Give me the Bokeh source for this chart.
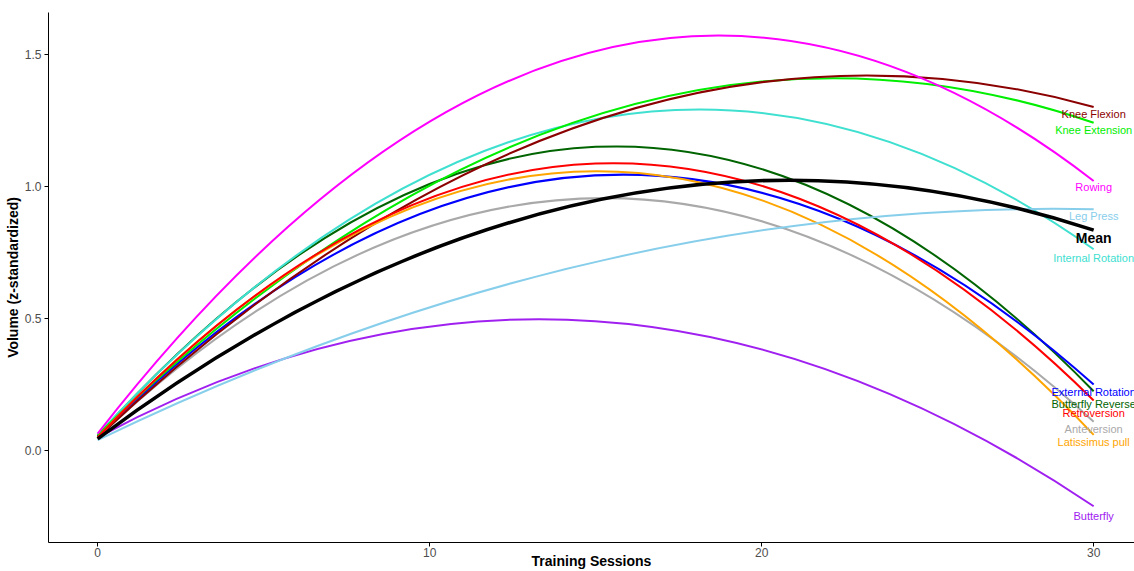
from bokeh.plotting import figure
from bokeh.models import ColumnDataSource, Range1d, FixedTicker, PrintfTickFormatter
from bokeh.embed import file_html
from bokeh.resources import INLINE
from bokeh.core.properties import value

# ---------------- data ----------------
exercises = ["Anteversion", "Butterfly", "Butterfly Reverse", "External Rotation",
             "Internal Rotation", "Knee Extension", "Knee Flexion", "Latissimus pull",
             "Leg Press", "Retroversion", "Rowing", "Mean"]
# fitted volume at session 0, session 15 and session 30
volume_s0 = [0.05, 0.05, 0.055, 0.05, 0.06, 0.06, 0.05, 0.05, 0.04, 0.05, 0.065, 0.045]
volume_s15 = [0.955, 0.490, 1.149, 1.041, 1.254, 1.268, 1.249, 1.057, 0.714, 1.086, 1.511, 0.946]
volume_s30 = [0.11, -0.21, 0.225, 0.25, 0.762, 1.24, 1.30, 0.06, 0.913, 0.19, 1.02, 0.834]
session_first, session_mid, session_last = 0, 15, 30
x_ticks = [0, 10, 20, 30]
y_ticks = [0.0, 0.5, 1.0, 1.5]

# ---------------- styles / layout ----------------
COLORS = {
    "Anteversion": "#A9A9A9", "Butterfly": "#A020F0", "Butterfly Reverse": "#006400",
    "External Rotation": "#0000FF", "Internal Rotation": "#40E0D0", "Knee Extension": "#00EE00",
    "Knee Flexion": "#8B0000", "Latissimus pull": "#FFA500", "Leg Press": "#87CEEB",
    "Retroversion": "#FF0000", "Rowing": "#FF00FF", "Mean": "#000000",
}
LABEL_NUDGE = {
    "Anteversion": -0.027, "Butterfly": -0.035, "Butterfly Reverse": -0.048,
    "External Rotation": -0.027, "Internal Rotation": -0.034, "Knee Extension": -0.029,
    "Knee Flexion": -0.025, "Latissimus pull": -0.026, "Leg Press": -0.026,
    "Retroversion": -0.047, "Rowing": -0.024, "Mean": -0.030,
}
FONT = "Liberation Sans"
W, H = 1134, 571
MB_L, MB_T, MB_B = 48, 12, 28
X0, X1 = -1.48, 31.23
Y0, Y1 = -0.347, 1.657

p = figure(width=W, height=H, output_backend="svg", toolbar_location=None,
           x_range=Range1d(X0, X1), y_range=Range1d(Y0, Y1),
           min_border_left=MB_L, min_border_right=0, min_border_top=MB_T,
           min_border_bottom=MB_B)
p.xgrid.visible = False
p.ygrid.visible = False
p.outline_line_color = None
p.background_fill_color = "white"
p.border_fill_color = "white"

p.xaxis.ticker = FixedTicker(ticks=x_ticks)
p.yaxis.ticker = FixedTicker(ticks=y_ticks)
p.yaxis.formatter = PrintfTickFormatter(format="%.1f")
for ax in (p.xaxis, p.yaxis):
    ax.axis_line_color = "black"
    ax.axis_line_width = 1
    ax.major_tick_line_color = "black"
    ax.major_tick_out = 4
    ax.major_tick_in = 0
    ax.minor_tick_line_color = None
    ax.major_label_text_color = "#4D4D4D"
    ax.major_label_text_font = FONT
    ax.major_label_text_font_size = "12px"
    ax.axis_label_text_font = FONT
    ax.axis_label_text_font_style = "bold"
    ax.axis_label_text_font_size = "14px"
    ax.axis_label_text_color = "black"
p.yaxis.major_label_standoff = 3
p.yaxis.axis_label = "Volume (z-standardized)"
p.yaxis.axis_label_standoff = 1
p.xaxis.major_label_standoff = 1
p.xaxis.axis_label = "Training Sessions"
p.xaxis.axis_label_standoff = -7

# ---------------- curves (quadratic fits) ----------------
cy = [(4 * m - a - b) / 2 for a, m, b in zip(volume_s0, volume_s15, volume_s30)]
src = ColumnDataSource(dict(
    x0=[session_first] * len(exercises), x1=[session_last] * len(exercises),
    cx=[session_mid] * len(exercises),
    y0=volume_s0, y1=volume_s30, cy=cy,
    color=[COLORS[e] for e in exercises],
    lw=[3.5 if e == "Mean" else 2 for e in exercises],
))
p.quadratic(x0="x0", y0="y0", x1="x1", y1="y1", cx="cx", cy="cy",
            line_color="color", line_width="lw", source=src)

# ---------------- end labels ----------------
reg = [i for i, e in enumerate(exercises) if e != "Mean"]
mean_i = exercises.index("Mean")
lab_src = ColumnDataSource(dict(
    x=[session_last] * len(reg),
    y=[volume_s30[i] + LABEL_NUDGE[exercises[i]] for i in reg],
    text=[exercises[i] for i in reg],
    color=[COLORS[exercises[i]] for i in reg],
))
p.text(x="x", y="y", text="text", text_color="color", source=lab_src,
       text_font=value(FONT), text_font_size="11px",
       text_align="center", text_baseline="middle")
mean_src = ColumnDataSource(dict(x=[session_last],
                                 y=[volume_s30[mean_i] + LABEL_NUDGE["Mean"]],
                                 text=["Mean"]))
p.text(x="x", y="y", text="text", text_color="black", source=mean_src,
       text_font=value(FONT), text_font_size="14px", text_font_style="bold",
       text_align="center", text_baseline="middle")

open("out.html", "w").write(file_html(p, INLINE))
